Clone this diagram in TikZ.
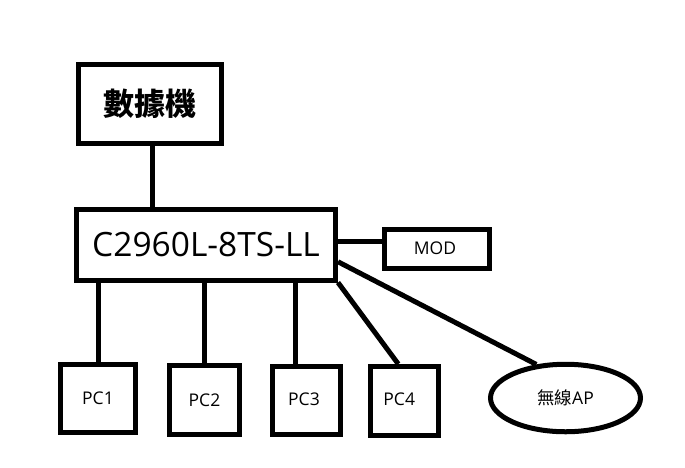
\documentclass[tikz,border=0pt]{standalone}
\usepackage{fontspec}
\setmainfont{Open Sans}
\newfontfamily\cjk{Noto Sans CJK TC}
\usetikzlibrary{shapes.geometric}
\tikzset{
  box/.style n args={2}{draw, line width=5pt, minimum width=#1, minimum height=#2, inner sep=0pt},
  conn/.style={line width=5pt},
  lbl/.style={font=\fontsize{17.5}{17.5}\selectfont}
}
\begin{document}
\begin{tikzpicture}[x=1pt,y=-1pt]
\fill[white] (0,0) rectangle (685,467);
\useasboundingbox (0,0) rectangle (685,467);
\node[box={142.5pt}{79pt}, font=\cjk\bfseries\fontsize{31}{31}\selectfont] (modem) at (149.75,104) {數據機};
\node[box={259pt}{70.5pt}, font=\fontsize{33.5}{33.5}\selectfont] (sw) at (206,244.75) {C2960L-8TS-LL};
\node[box={105pt}{39pt}, lbl] (mod) at (437,248.5) {MOD\hspace*{4pt}};
\node[box={75pt}{68pt}, lbl] (pc1) at (98,398.5) {\raisebox{-2pt}{PC1}};
\node[box={70pt}{68.5pt}, lbl] (pc2) at (204.5,399.75) {PC2};
\node[box={68pt}{67.5pt}, lbl] (pc3) at (306.5,400.25) {\raisebox{2pt}{PC3}\hspace*{5pt}};
\node[box={68.5pt}{69pt}, lbl] (pc4) at (404.25,401) {\raisebox{3pt}{PC4}\hspace*{10pt}};
\node[draw, ellipse, line width=5pt, minimum width=150pt, minimum height=67.5pt, inner sep=0pt, lbl] (ap) at (565.5,398) {{\cjk 無線}AP};
\draw[conn] ([xshift=2.25pt]modem.south) -- ([xshift=2.25pt]modem.south |- sw.north);
\draw[conn] ([yshift=7.5pt]mod.west) -- ([yshift=7.5pt]mod.west -| sw.east);
\draw[conn] (pc1.north) -- (pc1.north |- sw.south);
\draw[conn] (pc2.north) -- (pc2.north |- sw.south);
\draw[conn] ([xshift=-10.8pt,yshift=-5pt]pc3.north) -- ([xshift=-10.8pt]pc3.north |- sw.south);
\draw[conn] (sw.south east) -- ([xshift=-6pt]pc4.north);
\draw[conn] ([yshift=-17pt]sw.east) -- (ap.131);
\end{tikzpicture}
\end{document}
